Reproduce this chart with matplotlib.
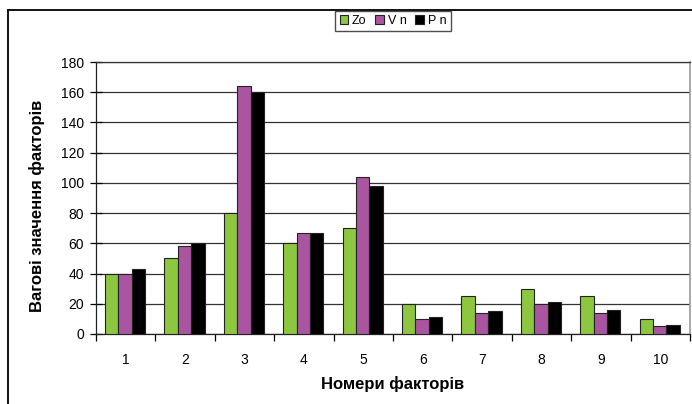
import matplotlib.pyplot as plt
import numpy as np
from matplotlib.lines import Line2D

plt.rcParams['font.family'] = ['Liberation Sans', 'DejaVu Sans']

factors = ['1', '2', '3', '4', '5', '6', '7', '8', '9', '10']
zo = [40, 50, 80, 60, 70, 20, 25, 30, 25, 10]
vn = [40, 58, 164, 67, 104, 10, 14, 20, 14, 5]
pn = [43, 60, 160, 67, 98, 11, 15, 21, 16, 6]

series = [('Zo', zo, '#8dc63f'), ('Vn', vn, '#aa55a0'), ('Pn', pn, '#000000')]

fig = plt.figure(figsize=(6.92, 4.04), dpi=100)
ax = fig.add_axes([0.1387, 0.1733, 0.8584, 0.6732])

x = np.arange(1, len(factors) + 1)
w = 0.225
for i, (name, vals, col) in enumerate(series):
    ax.bar(x + (i - 1) * w - 0.01, vals, w, color=col, edgecolor='#222222',
           linewidth=0.8, label=name, zorder=3)

ax.set_xlim(0.5, 10.5)
ax.set_ylim(0, 180)
ax.set_yticks(range(0, 181, 20))
ax.yaxis.grid(True, color='#333333', linewidth=0.9, zorder=0)

# category ticks sit on group boundaries, labels in the middle
ax.set_xticks(np.arange(0.5, 11, 1))
ax.set_xticklabels([])
ax.set_xticks(x, minor=True)
ax.set_xticklabels(factors, minor=True)
ax.tick_params(axis='x', which='major', direction='out', length=5, width=0.9)
ax.tick_params(axis='x', which='minor', length=0, pad=14, labelsize=10)
ax.tick_params(axis='y', direction='inout', length=9, width=0.9, labelsize=10, pad=4)

for s in ['left', 'bottom']:
    ax.spines[s].set_color('#222222')
    ax.spines[s].set_linewidth(0.9)
ax.spines['top'].set_color('#333333')
ax.spines['top'].set_linewidth(0.9)
ax.spines['right'].set_color('#999999')
ax.spines['right'].set_linewidth(1.2)

fig.text(0.567, 0.05, 'Номери факторів', ha='center', va='center',
         fontsize=12, fontweight='bold')
fig.text(0.053, 0.49, 'Вагові значення факторів', ha='center', va='center',
         rotation=90, fontsize=12, fontweight='bold')

handles = [plt.Rectangle((0, 0), 1, 1, facecolor=c, edgecolor='#222222', linewidth=0.8)
           for _, _, c in series]
fig.legend(handles, ['Zo', 'V n', 'P n'], loc='center', bbox_to_anchor=(0.568, 0.948),
           ncol=3, fontsize=9, frameon=True, fancybox=False, edgecolor='#222222',
           handlelength=0.7, handleheight=0.7, handletextpad=0.3, columnspacing=0.7,
           borderpad=0.35, borderaxespad=0)

# outer chart frame (left and top edges)
fig.add_artist(Line2D([8 / 692, 8 / 692], [0, 1 - 10 / 404], color='#111111',
                      linewidth=1.4, transform=fig.transFigure))
fig.add_artist(Line2D([8 / 692, 1], [1 - 10 / 404, 1 - 10 / 404], color='#111111',
                      linewidth=1.4, transform=fig.transFigure))

fig.savefig('out.png', dpi=100)
